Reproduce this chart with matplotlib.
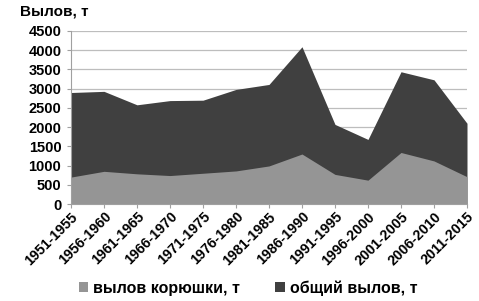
import matplotlib.pyplot as plt
import numpy as np

periods = ['1951-1955', '1956-1960', '1961-1965', '1966-1970', '1971-1975',
           '1976-1980', '1981-1985', '1986-1990', '1991-1995', '1996-2000',
           '2001-2005', '2006-2010', '2011-2015']
smelt = [700, 850, 785, 740, 800, 860, 990, 1300, 770, 620, 1340, 1120, 710]
total = [2900, 2930, 2580, 2690, 2700, 2980, 3110, 4090, 2070, 1680, 3440, 3230, 2100]

plt.rcParams['font.family'] = ['Liberation Sans', 'DejaVu Sans']
plt.rcParams['font.weight'] = 'bold'

fig = plt.figure(figsize=(4.79, 3.01), dpi=100)
ax = fig.add_axes([71 / 479, 1 - 204 / 301, 396 / 479, 173 / 301])

x = np.arange(len(periods))
ax.fill_between(x, 0, total, color='#404040', lw=0, label='общий вылов, т')
ax.fill_between(x, 0, smelt, color='#959595', lw=0, label='вылов корюшки, т')

ax.set_xlim(0, len(periods) - 1)
ax.set_ylim(0, 4500)
ax.set_yticks(range(0, 4501, 500))
ax.grid(axis='y', color='#bdbdbd', lw=0.9)
ax.set_axisbelow(True)
for s in ['top', 'right']:
    ax.spines[s].set_visible(False)
ax.spines['left'].set_color('#a0a0a0')
ax.spines['bottom'].set_color('#a0a0a0')
ax.tick_params(axis='y', length=3, color='#a0a0a0', labelsize=10.5, pad=4)
ax.tick_params(axis='x', length=3, color='#a0a0a0', labelsize=10.3, pad=1)
ax.set_xticks(x)
ax.set_xticklabels(periods, rotation=45, ha='right', rotation_mode='anchor')
for lbl in ax.get_yticklabels() + ax.get_xticklabels():
    lbl.set_fontweight('bold')

fig.text(20 / 479, 1 - 12 / 301, 'Вылов, т', fontsize=11, fontweight='bold', va='center')

h, l = ax.get_legend_handles_labels()
fig.legend(h[::-1], l[::-1], loc='center', bbox_to_anchor=(248 / 479, 1 - 288 / 301), ncol=2,
           frameon=False, handlelength=0.6, handleheight=0.6,
           columnspacing=2.2, handletextpad=0.3, prop={'weight': 'bold', 'size': 11.5})

fig.savefig('out.png', dpi=100)
